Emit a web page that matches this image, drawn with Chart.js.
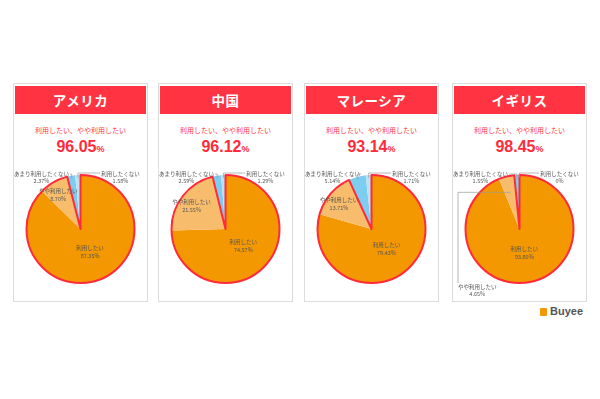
<!DOCTYPE html>
<html>
<head>
<meta charset="utf-8">
<script src="https://cdn.jsdelivr.net/npm/chart.js@4"></script>
<style>
  body { margin: 0; background: #fff; }
  #wrap { position: relative; width: 600px; height: 399px; overflow: hidden; font-family: "Noto Sans CJK JP", sans-serif; }
  .card { position: absolute; top: 83px; width: 135px; height: 219px; box-sizing: border-box; border: 1px solid #dcdcdc; background: #fff; }
  .head { position: absolute; left: 1px; right: 1px; top: 2px; height: 28px; background: #ff3341; color: #fff; font-weight: bold; font-size: 13.5px; line-height: 28px; text-align: center; letter-spacing: 0.5px; }
  .sub { position: absolute; left: 0; right: 0; top: 42px; text-align: center; color: #ff3341; font-size: 7px; line-height: 9px; }
  .big { position: absolute; left: 0; right: 0; top: 53px; text-align: center; color: #ff2a3a; font-family: "Liberation Sans", sans-serif; font-weight: bold; font-size: 16px; line-height: 20px; }
  .big span { font-size: 9px; }
  canvas.pie { position: absolute; top: 164px; }
  #logo { position: absolute; left: 540px; top: 304px; height: 14px; }
  #logo i { position: absolute; left: 0; top: 4px; width: 7px; height: 8px; background: #f39800; border-radius: 1px; }
  #logo b { position: absolute; left: 10px; top: 0; font-family: "Liberation Sans", sans-serif; font-size: 11px; line-height: 14px; color: #555; }
</style>
</head>
<body>
<div id="wrap">
  <div id="logo"><i></i><b>Buyee</b></div>
</div>
<script>
// data
const countries = ['アメリカ', '中国', 'マレーシア', 'イギリス'];
const categories = ['利用したい', 'やや利用したい', 'あまり利用したくない', '利用したくない'];
const usaValues = [87.35, 8.70, 2.37, 1.58];
const chinaValues = [74.57, 21.55, 2.59, 1.29];
const malaysiaValues = [79.43, 13.71, 5.14, 1.71];
const ukValues = [93.80, 4.65, 1.55, 0];
const positiveTotals = ['96.05', '96.12', '93.14', '98.45'];
const subtitle = '利用したい、やや利用したい';

const seriesList = [usaValues, chinaValues, malaysiaValues, ukValues];
const sliceColors = ['#f39800', '#f7bd6c', '#7dcdf0', '#b9e3f5'];
const cardLeft = [13, 158, 304, 452];

function fmt(v) {
    return v === 0 ? '0%' : v.toFixed(2) + '%';
}

// red outline for the 利用したい + やや利用したい part and the slice labels
const pieDecor = {
    id: 'pieDecor',
    afterDatasetsDraw(chart) {
        const ctx = chart.ctx;
        const arcs = chart.getDatasetMeta(0).data;
        const vals = chart.data.datasets[0].data;
        const labels = chart.data.labels;
        const x = arcs[0].x, y = arcs[0].y, r = arcs[0].outerRadius;
        const mid = a => (a.startAngle + a.endAngle) / 2;
        const at = (a, f) => ({ x: x + Math.cos(mid(a)) * r * f, y: y + Math.sin(mid(a)) * r * f });

        ctx.save();
        ctx.beginPath();
        ctx.moveTo(x, y);
        ctx.arc(x, y, r, arcs[0].startAngle, arcs[1].endAngle);
        ctx.closePath();
        ctx.lineWidth = 2;
        ctx.lineJoin = 'round';
        ctx.strokeStyle = '#ff2a3a';
        ctx.stroke();

        ctx.font = '5.5px "Noto Sans CJK JP"';
        ctx.fillStyle = '#555';
        ctx.textAlign = 'center';
        ctx.textBaseline = 'middle';
        ctx.strokeStyle = '#999';
        ctx.lineWidth = 0.7;

        const two = (cx, cy, i) => {
            ctx.fillText(labels[i], cx, cy - 4);
            ctx.fillText(fmt(vals[i]), cx, cy + 4);
        };

        // 利用したい
        let p = at(arcs[0], 0.46);
        two(p.x, p.y, 0);

        // やや利用したい
        if (vals[1] >= 6) {
            p = at(arcs[1], 0.72);
            two(p.x - 3, p.y, 1);
        } else {
            p = at(arcs[1], 0.7);
            const lx = chart.chartArea.left + 6;
            ctx.beginPath();
            ctx.moveTo(p.x, p.y);
            ctx.lineTo(lx, p.y);
            ctx.lineTo(lx, y + r);
            ctx.stroke();
            const w = ctx.measureText(labels[1]).width;
            ctx.fillText(labels[1], lx + w / 2, y + r + 4);
            ctx.fillText(fmt(vals[1]), lx + w / 2, y + r + 11);
        }

        // あまり利用したくない (top left)
        const y1 = y - r - 1;
        let tx = x - 39;
        let w = ctx.measureText(labels[2]).width;
        let e = at(arcs[2], 0.95);
        ctx.beginPath();
        ctx.moveTo(tx + w / 2 + 1, y1);
        ctx.lineTo(e.x, y1);
        ctx.lineTo(e.x, e.y);
        ctx.stroke();
        ctx.fillText(labels[2], tx, y1);
        ctx.fillText(fmt(vals[2]), tx, y1 + 7);

        // 利用したくない (top right)
        tx = x + 40;
        w = ctx.measureText(labels[3]).width;
        e = at(arcs[3], 0.95);
        ctx.beginPath();
        ctx.moveTo(tx - w / 2 - 1, y1 - 1);
        ctx.lineTo(e.x, y1 - 1);
        ctx.lineTo(e.x, e.y);
        ctx.stroke();
        ctx.fillText(labels[3], tx, y1);
        ctx.fillText(fmt(vals[3]), tx, y1 + 7);
        ctx.restore();
    }
};

const wrap = document.getElementById('wrap');

countries.forEach((name, k) => {
    const card = document.createElement('div');
    card.className = 'card';
    card.style.left = cardLeft[k] + 'px';
    card.innerHTML = '<div class="head">' + name + '</div>' +
        '<div class="sub">' + subtitle + '</div>' +
        '<div class="big">' + positiveTotals[k] + '<span>%</span></div>';
    wrap.appendChild(card);

    const canvas = document.createElement('canvas');
    canvas.className = 'pie';
    canvas.width = 135;
    canvas.height = 136;
    canvas.style.left = cardLeft[k] + 'px';
    wrap.appendChild(canvas);

    new Chart(canvas, {
        type: 'pie',
        data: {
            labels: categories,
            datasets: [{
                data: seriesList[k],
                backgroundColor: sliceColors,
                borderWidth: 0
            }]
        },
        options: {
            responsive: false,
            animation: false,
            devicePixelRatio: 1,
            layout: { padding: { top: 11, bottom: 17, left: 0, right: 0 } },
            plugins: {
                legend: { display: false },
                tooltip: { enabled: false }
            }
        },
        plugins: [pieDecor]
    });
});
</script>
</body>
</html>
